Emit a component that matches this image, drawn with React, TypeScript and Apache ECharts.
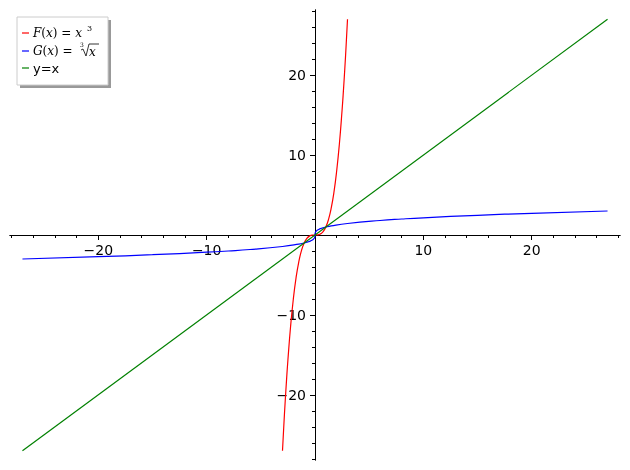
import React, { useEffect, useRef } from 'react';
import * as echarts from 'echarts';

// axis extent and ticks
const AXIS_MIN = -28.15;
const AXIS_MAX = 28.15;
const majorTicks = [-20, -10, 10, 20];
const minorTicks = [-28, -26, -24, -22, -18, -16, -14, -12, -8, -6, -4, -2, 2, 4, 6, 8, 12, 14, 16, 18, 22, 24, 26, 28];

// F(x) = x^3 (visible part)
const cubeX = [-3, -2.875, -2.75, -2.625, -2.5, -2.25, -2, -1.75, -1.5, -1.25, -1, -0.75, -0.5, -0.25, 0, 0.25, 0.5, 0.75, 1, 1.25, 1.5, 1.75, 2, 2.25, 2.5, 2.625, 2.75, 2.875, 3];
const cubeY = [-27, -23.76, -20.8, -18.09, -15.63, -11.39, -8, -5.36, -3.38, -1.95, -1, -0.42, -0.13, -0.02, 0, 0.02, 0.13, 0.42, 1, 1.95, 3.38, 5.36, 8, 11.39, 15.63, 18.09, 20.8, 23.76, 27];

// G(x) = cube root of x
const rootX = [-27, -20, -15, -10, -8, -6, -3, -1.5, -1, -0.6, -0.4, -0.2, -0.1, -0.05, -0.02, -0.005, 0, 0.005, 0.02, 0.05, 0.1, 0.2, 0.4, 0.6, 1, 1.5, 3, 6, 8, 10, 15, 20, 27];
const rootY = [-3, -2.714, -2.466, -2.154, -2, -1.817, -1.442, -1.145, -1, -0.843, -0.737, -0.585, -0.464, -0.368, -0.271, -0.171, 0, 0.171, 0.271, 0.368, 0.464, 0.585, 0.737, 0.843, 1, 1.145, 1.442, 1.817, 2, 2.154, 2.466, 2.714, 3];

// y = x
const lineX = [-27, 27];
const lineY = [-27, 27];

const seriesNames = ['F(x) = x^3', 'G(x) = cbrt(x)', 'y=x'];
const seriesColors = ['#ff0000', '#0000ff', '#008000'];

const zip = (xs: number[], ys: number[]) => xs.map((x, i) => [x, ys[i]]);
const fmt = (v: number) => (v < 0 ? '\u2212' + Math.abs(v) : String(v));

const W = 630;
const H = 470;
const PAD = 10;
const axisFont = { fontSize: 14, color: '#000', fontFamily: 'DejaVu Sans' };

export default function App() {
  const ref = useRef<HTMLDivElement>(null);
  useEffect(() => {
    if (!ref.current) return;
    const chart = echarts.init(ref.current, null, { renderer: 'svg' });
    const lineStyle = { color: '#000', width: 1 };
    // axes cross at the origin, which is the middle of the symmetric range
    const xOffset = -(H - 2 * PAD) / 2;
    const yOffset = -(W - 2 * PAD) / 2;
    const base = { type: 'value' as const, min: AXIS_MIN, max: AXIS_MAX, splitLine: { show: false } };
    const serifI = { fontFamily: 'DejaVu Serif', fontStyle: 'italic', fontSize: 12, color: '#000' };
    const serifN = { fontFamily: 'DejaVu Serif', fontSize: 12, color: '#000' };
    chart.setOption({
      animation: false,
      grid: { left: PAD, right: PAD, top: PAD, bottom: PAD, containLabel: false, outerBoundsMode: 'none' },
      xAxis: [
        {
          ...base, position: 'bottom', offset: xOffset,
          axisLine: { onZero: false, lineStyle },
          axisTick: { customValues: majorTicks, length: 5, lineStyle },
          axisLabel: { customValues: majorTicks, formatter: fmt, margin: 8, ...axisFont },
        },
        {
          ...base, position: 'bottom', offset: xOffset,
          axisLine: { onZero: false, lineStyle },
          axisTick: { customValues: minorTicks, length: 3, lineStyle },
          axisLabel: { show: false },
        },
      ],
      yAxis: [
        {
          ...base, position: 'left', offset: yOffset,
          axisLine: { onZero: false, lineStyle },
          axisTick: { customValues: majorTicks, length: 5, lineStyle },
          axisLabel: { customValues: majorTicks, formatter: fmt, margin: 9, ...axisFont },
        },
        {
          ...base, position: 'left', offset: yOffset,
          axisLine: { onZero: false, lineStyle },
          axisTick: { customValues: minorTicks, length: 3, lineStyle },
          axisLabel: { show: false },
        },
      ],
      series: [
        { name: seriesNames[0], type: 'line', data: zip(cubeX, cubeY), smooth: true, showSymbol: false, symbol: 'none', lineStyle: { color: seriesColors[0], width: 1.2 }, z: 3 },
        { name: seriesNames[1], type: 'line', data: zip(rootX, rootY), smooth: true, showSymbol: false, symbol: 'none', lineStyle: { color: seriesColors[1], width: 1.2 }, z: 4 },
        { name: seriesNames[2], type: 'line', data: zip(lineX, lineY), showSymbol: false, symbol: 'none', lineStyle: { color: seriesColors[2], width: 1.2 }, z: 5 },
      ],
      graphic: [
        { type: 'rect', shape: { x: 20, y: 20, width: 91, height: 68 }, style: { fill: '#999' }, z: 10 },
        { type: 'rect', shape: { x: 17, y: 17, width: 91, height: 68 }, style: { fill: '#fff', stroke: '#cccccc', lineWidth: 1 }, z: 11 },
        { type: 'line', shape: { x1: 22, y1: 33, x2: 29, y2: 33 }, style: { stroke: seriesColors[0], lineWidth: 1.2 }, z: 12 },
        { type: 'line', shape: { x1: 22, y1: 51, x2: 29, y2: 51 }, style: { stroke: seriesColors[1], lineWidth: 1.2 }, z: 12 },
        { type: 'line', shape: { x1: 22, y1: 68, x2: 29, y2: 68 }, style: { stroke: seriesColors[2], lineWidth: 1.2 }, z: 12 },
        {
          type: 'text', x: 33, y: 33, z: 12,
          style: {
            text: '{i|F}{n|(}{i|x}{n|) = }{i|x}',
            verticalAlign: 'middle',
            rich: { i: serifI, n: serifN },
          },
        },
        { type: 'text', x: 87, y: 24, z: 12, style: { text: '3', fontFamily: 'DejaVu Serif', fontSize: 8, fill: '#000' } },
        {
          type: 'text', x: 33, y: 51, z: 12,
          style: {
            text: '{i|G}{n|(}{i|x}{n|) = }',
            verticalAlign: 'middle',
            rich: { i: serifI, n: serifN },
          },
        },
        { type: 'text', x: 80, y: 41, z: 12, style: { text: '3', fontFamily: 'DejaVu Serif', fontSize: 6, fill: '#000' } },
        { type: 'polyline', shape: { points: [[81, 50], [83, 49], [86, 56], [89, 44], [99, 44]] }, style: { stroke: '#000', lineWidth: 0.8, fill: 'none' }, z: 12 },
        { type: 'text', x: 89, y: 52, z: 12, style: { text: 'x', verticalAlign: 'middle', ...{ fontFamily: 'DejaVu Serif', fontStyle: 'italic', fontSize: 12 }, fill: '#000' } },
        {
          type: 'text', x: 33, y: 68, z: 12,
          style: { text: 'y=x', verticalAlign: 'middle', fontFamily: 'DejaVu Sans', fontSize: 13, fill: '#000' },
        },
      ],
    });
    return () => chart.dispose();
  }, []);
  return <div ref={ref} style={{ position: 'fixed', left: 0, top: 0, width: W, height: H }} />;
}
